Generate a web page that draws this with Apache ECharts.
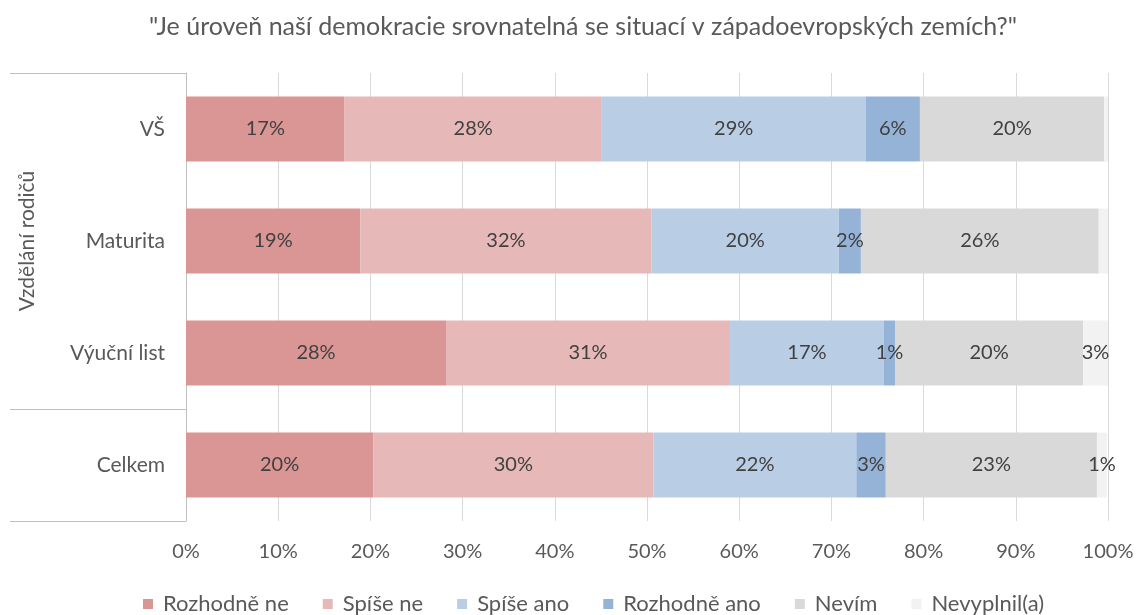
<!DOCTYPE html>
<html>
<head>
<meta charset="utf-8">
<script src="https://cdn.jsdelivr.net/npm/echarts@6/dist/echarts.min.js"></script>
<style>
    html, body { margin: 0; padding: 0; background: #fff; }
    #chart { width: 1137px; height: 615px; }
</style>
</head>
<body>
<div id="chart"></div>
<script>
    // kategorie odspodu nahoru
    var categories = ['Celkem', 'Výuční list', 'Maturita', 'VŠ'];
    var seriesNames = ['Rozhodně ne', 'Spíše ne', 'Spíše ano', 'Rozhodně ano', 'Nevím', 'Nevyplnil(a)'];
    var rozhodneNe = [20.3, 28.2, 18.9, 17.2];
    var spiseNe = [30.4, 30.8, 31.6, 27.9];
    var spiseAno = [22.0, 16.7, 20.3, 28.6];
    var rozhodneAno = [3.2, 1.2, 2.4, 5.9];
    var nevim = [22.9, 20.4, 25.8, 20.0];
    var nevyplnil = [1.1, 2.7, 1.0, 0.4];
    var hiddenLabels = [false, false, true, true]; // Nevyplnil bez popisku u Maturita a VŠ
    var xTicks = ['0%', '10%', '20%', '30%', '40%', '50%', '60%', '70%', '80%', '90%', '100%'];

    var colors = ['#da9694', '#e6b9b8', '#b9cde5', '#95b3d7', '#d9d9d9', '#f2f2f2'];
    var font = 'Lato, "Open Sans", sans-serif';
    var textColor = '#595959';

    // rozvržení plochy grafu
    var W = 1137, H = 615;
    var gridLeft = 186, gridRight = 29, gridTop = 73, gridBottom = 94;

    var chart = echarts.init(document.getElementById('chart'));

    var allData = [rozhodneNe, spiseNe, spiseAno, rozhodneAno, nevim, nevyplnil];
    var series = allData.map(function (arr, i) {
        return {
            name: seriesNames[i],
            type: 'bar',
            stack: 'total',
            barWidth: '58%',
            itemStyle: { color: colors[i] },
            label: {
                show: true,
                position: 'inside',
                color: '#404040',
                fontSize: 20,
                fontFamily: font,
                formatter: function (p) { return Math.round(p.value) + '%'; }
            },
            data: arr.map(function (v, j) {
                if (i === 5 && hiddenLabels[j]) {
                    return { value: v, label: { show: false } };
                }
                return v;
            })
        };
    });

    // rámeček skupiny "Vzdělání rodičů"
    var plotH = H - gridTop - gridBottom;
    var band = plotH / categories.length;
    var lineStyle = { stroke: '#bfbfbf', lineWidth: 1 };
    var groupY = gridTop + band * 3;

    var option = {
        animation: false,
        textStyle: { fontFamily: font },
        title: {
            text: '"Je úroveň naší demokracie srovnatelná se situací v západoevropských zemích?"',
            left: 144,
            top: 9,
            textStyle: { color: textColor, fontSize: 25, fontWeight: 'normal', fontFamily: font }
        },
        legend: {
            top: 588,
            left: 138,
            itemWidth: 10,
            itemHeight: 10,
            itemGap: 34,
            icon: 'rect',
            textStyle: { color: textColor, fontSize: 22, fontFamily: font, padding: [0, 0, 0, 5] },
            data: seriesNames
        },
        grid: {
            left: gridLeft,
            right: gridRight,
            top: gridTop,
            bottom: gridBottom
        },
        xAxis: {
            type: 'value',
            min: 0,
            max: 100,
            interval: 10,
            axisLine: { show: false },
            axisTick: { show: false },
            splitLine: { lineStyle: { color: '#d9d9d9', width: 1 } },
            axisLabel: {
                color: textColor,
                fontSize: 20,
                margin: 21,
                formatter: function (v) { return xTicks[Math.round(v / 10)]; }
            }
        },
        yAxis: {
            type: 'category',
            data: categories,
            axisLine: { lineStyle: { color: '#bfbfbf' } },
            axisTick: { show: false },
            axisLabel: { color: textColor, fontSize: 21, margin: 21 }
        },
        graphic: [
            { type: 'line', shape: { x1: 10, y1: gridTop + 0.5, x2: gridLeft, y2: gridTop + 0.5 }, style: lineStyle },
            { type: 'line', shape: { x1: 10, y1: groupY + 0.5, x2: gridLeft, y2: groupY + 0.5 }, style: lineStyle },
            { type: 'line', shape: { x1: 10, y1: H - gridBottom + 0.5, x2: gridLeft, y2: H - gridBottom + 0.5 }, style: lineStyle },
            {
                type: 'text',
                x: 27,
                y: (gridTop + groupY) / 2,
                rotation: Math.PI / 2,
                style: {
                    text: 'Vzdělání rodičů',
                    fill: textColor,
                    font: '21px ' + font,
                    align: 'center',
                    verticalAlign: 'middle'
                }
            }
        ],
        series: series
    };

    chart.setOption(option);
    window.onresize = function () {
        chart.resize();
    };
</script>
</body>
</html>
